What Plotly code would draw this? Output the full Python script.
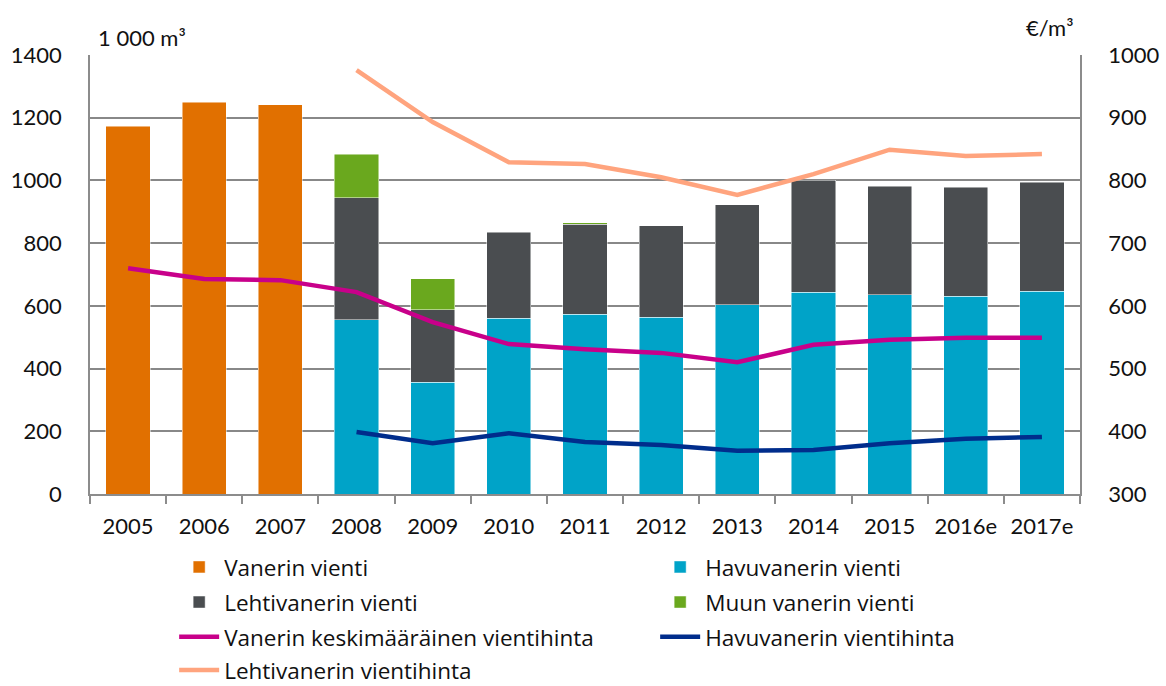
import plotly.graph_objects as go

years = ["2005", "2006", "2007", "2008", "2009", "2010", "2011", "2012", "2013", "2014", "2015", "2016e", "2017e"]

vanerin_vienti = [1173, 1250, 1242, None, None, None, None, None, None, None, None, None, None]
havuvanerin_vienti = [None, None, None, 555, 357, 561, 574, 563, 603, 644, 635, 631, 647]
lehtivanerin_vienti = [None, None, None, 389, 230, 274, 287, 292, 319, 357, 347, 348, 348]
muun_vanerin_vienti = [None, None, None, 140, 99, None, 4, None, None, None, None, None, None]

vanerin_hinta = [660, 643, 641, 622, 574, 539, 531, 525, 510, 538, 546, 549, 549]
havuvanerin_hinta = [None, None, None, 399, 381, 397, 383, 378, 369, 370, 381, 388, 391]
lehtivanerin_hinta = [None, None, None, 976, 893, 829, 826, 805, 777, 810, 849, 839, 842]

FONT = "Lato, Open Sans, sans-serif"
LEG_FONT = "Open Sans, Lato, sans-serif"
TXT = "#111111"

fig = go.Figure()
bar_line = dict(width=0.8, color="rgba(255,255,255,0.6)")
fig.add_trace(go.Bar(x=years, y=vanerin_vienti, name="Vanerin vienti", legend="legend",
                     marker=dict(color="#E17000", line=bar_line)))
fig.add_trace(go.Bar(x=years, y=havuvanerin_vienti, name="Havuvanerin vienti", legend="legend",
                     marker=dict(color="#00A3C8", line=bar_line)))
fig.add_trace(go.Bar(x=years, y=lehtivanerin_vienti, name="Lehtivanerin vienti", legend="legend2",
                     marker=dict(color="#4A4D50", line=bar_line)))
fig.add_trace(go.Bar(x=years, y=muun_vanerin_vienti, name="Muun vanerin vienti", legend="legend2",
                     marker=dict(color="#6AA81E", line=bar_line)))

fig.add_trace(go.Scatter(x=years, y=vanerin_hinta, name="Vanerin keskimääräinen vientihinta", mode="lines",
                         legend="legend3", line=dict(color="#C8008A", width=4.5), yaxis="y2"))
fig.add_trace(go.Scatter(x=years, y=havuvanerin_hinta, name="Havuvanerin vientihinta", mode="lines",
                         legend="legend3", line=dict(color="#002D8C", width=4.5), yaxis="y2"))
fig.add_trace(go.Scatter(x=years, y=lehtivanerin_hinta, name="Lehtivanerin vientihinta", mode="lines",
                         legend="legend4", line=dict(color="#FFA47E", width=4.5), yaxis="y2"))


def leg(y):
    return dict(
        orientation="h", x=0.085, xanchor="left", y=y, yanchor="middle",
        entrywidth=426, entrywidthmode="pixels", traceorder="normal",
        font=dict(family=LEG_FONT, size=22.5, color=TXT),
        itemwidth=40, bgcolor="rgba(0,0,0,0)",
    )


fig.update_layout(
    width=1166, height=686,
    margin=dict(l=90, r=86, t=55, b=192, autoexpand=False),
    paper_bgcolor="white", plot_bgcolor="white",
    barmode="stack", bargap=0.42,
    font=dict(family=FONT, size=22, color=TXT),
    xaxis=dict(
        type="category", showgrid=False,
        showline=True, linecolor="#8C8C8C", linewidth=1.5,
        ticks="outside", tickson="boundaries", ticklen=8, tickcolor="#8C8C8C", tickwidth=1.5,
        ticklabelstandoff=12,
        tickfont=dict(family=FONT, size=22, color=TXT),
    ),
    yaxis=dict(
        range=[0, 1400], dtick=200, showgrid=True, gridcolor="#888888", gridwidth=1.6,
        showline=True, linecolor="#8C8C8C", linewidth=1.5, zeroline=False,
        ticks="", ticklabelstandoff=22,
        tickfont=dict(family=FONT, size=22, color=TXT),
    ),
    yaxis2=dict(
        range=[300, 1000], dtick=100, overlaying="y", side="right", showgrid=False,
        showline=True, linecolor="#8C8C8C", linewidth=1.5, zeroline=False,
        ticks="", ticklabelstandoff=22,
        tickfont=dict(family=FONT, size=22, color=TXT),
    ),
    legend=leg(-0.167),
    legend2=leg(-0.247),
    legend3=leg(-0.326),
    legend4=leg(-0.402),
    annotations=[
        dict(text="1 000 m³", xref="paper", yref="paper", x=0.006, y=1.0, xanchor="left", yanchor="bottom",
             yshift=2, showarrow=False, font=dict(family=FONT, size=22, color=TXT)),
        dict(text="€/m³", xref="paper", yref="paper", x=1.0, y=1.0, xanchor="right", yanchor="bottom",
             yshift=12, xshift=-4, showarrow=False, font=dict(family=FONT, size=22, color=TXT)),
    ],
    showlegend=True,
)

fig.write_html("out.html", config={"displayModeBar": False},
               post_script="document.body.style.margin='0';")
